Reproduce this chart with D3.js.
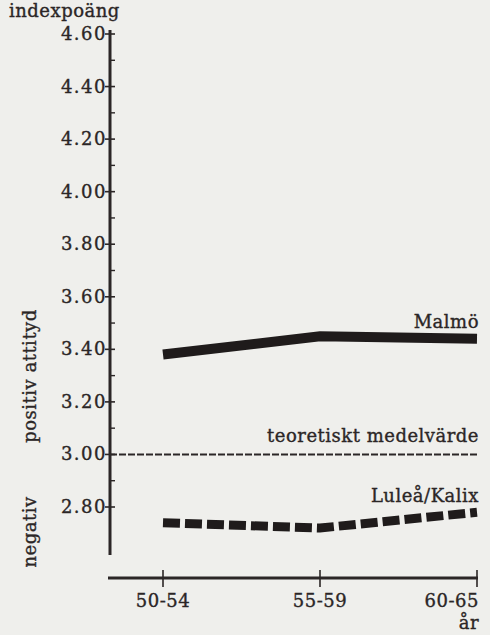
<!DOCTYPE html>
<html>
<head>
<meta charset="utf-8">
<script src="https://cdn.jsdelivr.net/npm/d3@7"></script>
<style>
  html, body { margin: 0; padding: 0; background: #efefec; }
  svg { display: block; }
  text {
    font-family: "DejaVu Serif", serif;
    font-size: 18px;
    letter-spacing: 0.5px;
    fill: #2b2626;
    stroke: #2b2626;
    stroke-width: 0.35px;
  }
</style>
</head>
<body>
<script>
// Attitude index by age group, Malmö vs Luleå/Kalix
const ageGroups = ["50-54", "55-59", "60-65"];
const malmo = [3.38, 3.45, 3.44];
const luleaKalix = [2.74, 2.72, 2.78];
const theoreticalMean = 3.00;
const yTicks = [4.6, 4.4, 4.2, 4.0, 3.8, 3.6, 3.4, 3.2, 3.0, 2.8];
const yMinorTicks = [4.5, 4.3, 4.1, 3.9, 3.7, 3.5, 3.3, 3.1, 2.9];

const W = 490, H = 635;
const ink = "#2b2626";

const svg = d3.select("body").append("svg")
  .attr("width", W).attr("height", H);

const y = d3.scaleLinear().domain([2.8, 4.6]).range([507, 34]);
const x = d3.scalePoint().domain(ageGroups).range([163, 477]);
const axisX = 110;
const axisY = 578;

// y axis line
svg.append("line")
  .attr("x1", axisX).attr("x2", axisX)
  .attr("y1", 30).attr("y2", 555)
  .attr("stroke", ink).attr("stroke-width", 3);

// major ticks, minor ticks and labels
const yAxis = svg.append("g");
yAxis.selectAll("line.major").data(yTicks).join("line")
  .attr("class", "major")
  .attr("x1", axisX - 5).attr("x2", axisX + 5)
  .attr("y1", d => y(d)).attr("y2", d => y(d))
  .attr("stroke", ink).attr("stroke-width", 1.6);
yAxis.selectAll("line.minor").data(yMinorTicks).join("line")
  .attr("class", "minor")
  .attr("x1", axisX).attr("x2", axisX + 5)
  .attr("y1", d => y(d)).attr("y2", d => y(d))
  .attr("stroke", ink).attr("stroke-width", 1.4);
yAxis.selectAll("text").data(yTicks).join("text")
  .attr("x", axisX - 3).attr("y", d => y(d) + 6)
  .attr("text-anchor", "end")
  .style("letter-spacing", "1.5px")
  .text(d3.format(".2f"));

// x axis line
svg.append("line")
  .attr("x1", 108).attr("x2", 478)
  .attr("y1", axisY).attr("y2", axisY)
  .attr("stroke", ink).attr("stroke-width", 3);
svg.append("g").selectAll("line").data(ageGroups).join("line")
  .attr("x1", d => x(d)).attr("x2", d => x(d))
  .attr("y1", axisY - 8).attr("y2", axisY + 9)
  .attr("stroke", ink).attr("stroke-width", 1.6);
svg.append("g").selectAll("text").data(ageGroups).join("text")
  .attr("x", (d, i) => i === 2 ? x(d) + 2 : x(d))
  .attr("y", 607)
  .attr("text-anchor", (d, i) => i === 2 ? "end" : "middle")
  .text(d => d);

svg.append("text").attr("x", 479).attr("y", 629)
  .attr("text-anchor", "end").text("år");

// axis titles
svg.append("text").attr("x", 9).attr("y", 17)
  .text("indexpoäng");
svg.append("text")
  .attr("transform", "translate(36,376) rotate(-90)")
  .attr("text-anchor", "middle")
  .text("positiv attityd");
svg.append("text")
  .attr("transform", "translate(36,532) rotate(-90)")
  .attr("text-anchor", "middle")
  .text("negativ");

const line = d3.line()
  .x((d, i) => x(ageGroups[i]))
  .y(d => y(d));

// theoretical mean
svg.append("line")
  .attr("x1", axisX).attr("x2", 478)
  .attr("y1", y(theoreticalMean)).attr("y2", y(theoreticalMean))
  .attr("stroke", ink).attr("stroke-width", 2)
  .attr("stroke-dasharray", "7,2");
svg.append("text").attr("x", 479).attr("y", y(theoreticalMean) - 12)
  .attr("text-anchor", "end")
  .text("teoretiskt medelvärde");

// Malmö
svg.append("path").datum(malmo)
  .attr("d", line)
  .attr("fill", "none").attr("stroke", "#1f1b1b").attr("stroke-width", 10);
svg.append("text").attr("x", 479).attr("y", y(malmo[2]) - 11)
  .attr("text-anchor", "end").text("Malmö");

// Luleå/Kalix
svg.append("path").datum(luleaKalix)
  .attr("d", line)
  .attr("fill", "none").attr("stroke", "#1f1b1b").attr("stroke-width", 9)
  .attr("stroke-dasharray", "17,5");
svg.append("text").attr("x", 479).attr("y", y(luleaKalix[2]) - 10)
  .attr("text-anchor", "end").text("Luleå/Kalix");
</script>
</body>
</html>
